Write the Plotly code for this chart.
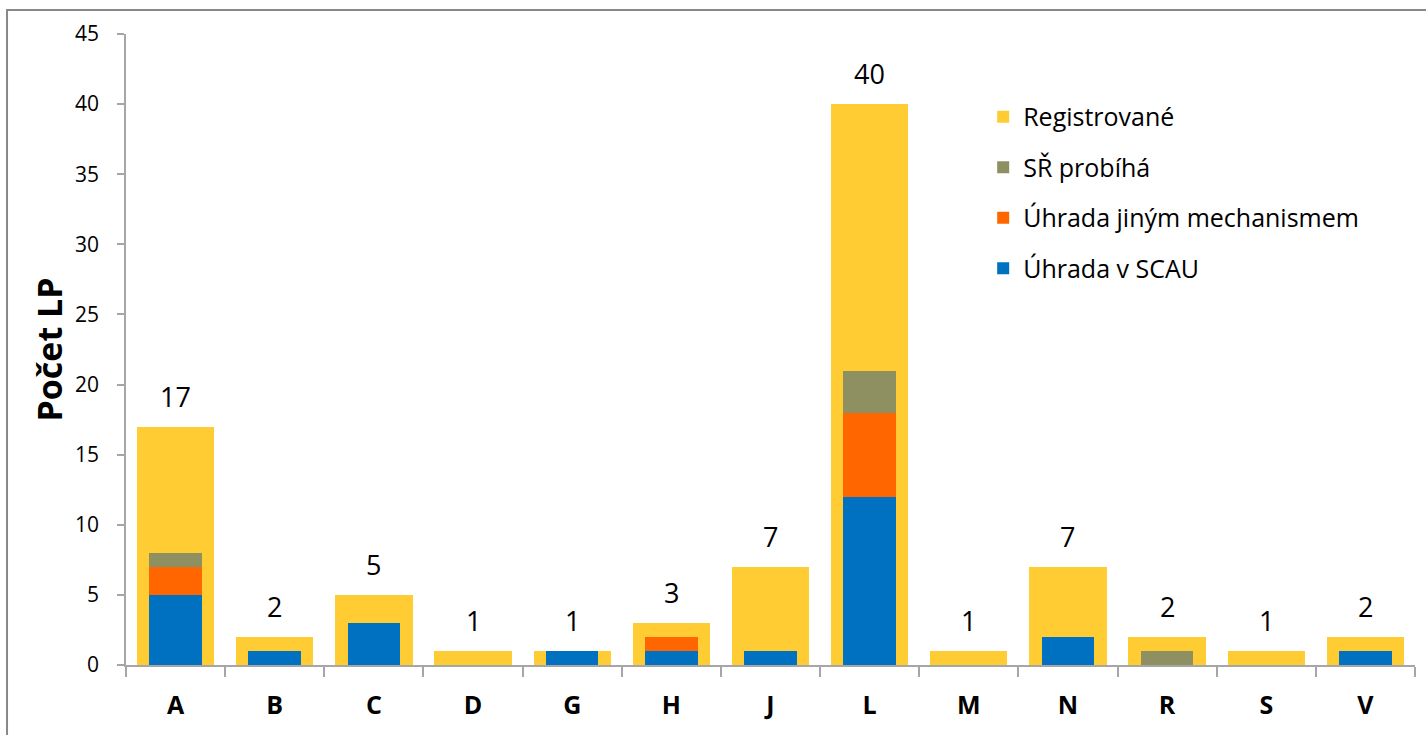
import plotly.graph_objects as go

categories = ["A", "B", "C", "D", "G", "H", "J", "L", "M", "N", "R", "S", "V"]
registrovane = [17, 2, 5, 1, 1, 3, 7, 40, 1, 7, 2, 1, 2]
uhrada_scau = [5, 1, 3, 0, 1, 1, 1, 12, 0, 2, 0, 0, 1]
uhrada_jinym = [2, 0, 0, 0, 0, 1, 0, 6, 0, 0, 0, 0, 0]
sr_probiha = [1, 0, 0, 0, 0, 0, 0, 3, 0, 0, 1, 0, 0]
y_ticks = [0, 5, 10, 15, 20, 25, 30, 35, 40, 45]

FONT = "Open Sans"
C_YEL = "#FFCC33"
C_BLUE = "#0070C0"
C_ORANGE = "#FF6600"
C_OLIVE = "#8F9062"
AX = "#A6A6A6"

fig = go.Figure()
fig.add_trace(go.Bar(x=categories, y=registrovane, name="Registrované",
                     marker=dict(color=C_YEL, line=dict(width=0)), width=0.78,
                     legendrank=1, legendgroup="g1", xaxis="x", yaxis="y"))
fig.add_trace(go.Bar(x=categories, y=uhrada_scau, name="Úhrada v SCAU",
                     marker=dict(color=C_BLUE, line=dict(width=0)), width=0.53,
                     legendrank=4, legendgroup="g4", xaxis="x2", yaxis="y"))
fig.add_trace(go.Bar(x=categories, y=uhrada_jinym, name="Úhrada jiným mechanismem",
                     marker=dict(color=C_ORANGE, line=dict(width=0)), width=0.53,
                     legendrank=3, legendgroup="g3", xaxis="x2", yaxis="y"))
fig.add_trace(go.Bar(x=categories, y=sr_probiha, name="SŘ probíhá",
                     marker=dict(color=C_OLIVE, line=dict(width=0)), width=0.53,
                     legendrank=2, legendgroup="g2", xaxis="x2", yaxis="y"))

for c, v in zip(categories, registrovane):
    fig.add_annotation(x=c, y=v, text=str(v), showarrow=False, xref="x", yref="y",
                       yanchor="bottom", yshift=10,
                       font=dict(family=FONT, size=27, color="#000000"))

fig.add_shape(type="rect", xref="paper", yref="paper",
              x0=-0.0923, x1=1.05, y0=-0.3, y1=1.0381,
              line=dict(color="#888888", width=2), layer="below")

fig.update_layout(
    width=1426, height=735,
    margin=dict(l=126, r=11, t=34, b=70),
    paper_bgcolor="white", plot_bgcolor="white",
    barmode="stack",
    showlegend=True,
    legend=dict(x=0.665, y=0.905, xanchor="left", yanchor="top",
                font=dict(family=FONT, size=25, color="#000000"),
                tracegroupgap=15, itemwidth=30, bgcolor="rgba(0,0,0,0)",
                traceorder="grouped"),
    font=dict(family=FONT, color="#000000"),
    xaxis=dict(type="category", categoryorder="array", categoryarray=categories,
               range=[-0.5, len(categories) - 0.5],
               showline=True, linecolor=AX, linewidth=1.5,
               ticks="outside", tickson="boundaries", ticklen=10, tickcolor=AX, tickwidth=1.5,
               ticklabelstandoff=17,
               tickfont=dict(family=FONT, size=25, color="#000000", weight="bold"),
               showgrid=False, zeroline=False),
    xaxis2=dict(type="category", categoryorder="array", categoryarray=categories,
                range=[-0.5, len(categories) - 0.5],
                overlaying="x", visible=False, showgrid=False, zeroline=False),
    yaxis=dict(range=[0, 45], tickvals=y_ticks, showline=True, linecolor=AX, linewidth=1.5,
               ticks="outside", ticklen=7, tickcolor=AX, tickwidth=1.5,
               ticklabelstandoff=14,
               tickfont=dict(family=FONT, size=21, color="#000000"),
               showgrid=False, zeroline=False,
               title=dict(text="<b>Počet LP</b>", font=dict(family=FONT, size=34, color="#000000"),
                          standoff=2)),
)

fig.write_html("out.html")
